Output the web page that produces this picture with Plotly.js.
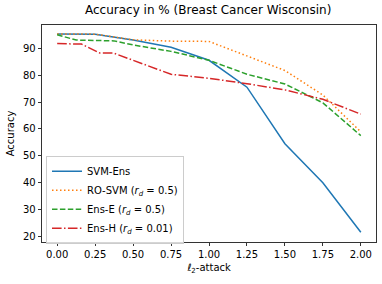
<!DOCTYPE html>
<html>
<head>
<meta charset="utf-8">
<script src="https://cdn.plot.ly/plotly-3.0.1.min.js"></script>
<style>html,body{margin:0;padding:0;background:#fff;}#chart{width:382px;height:284px;}</style>
</head>
<body>
<div id="chart"></div>
<script>
const svmEnsX = [0, 0.25, 0.5, 0.75, 1.0, 1.25, 1.5, 1.75, 2.0];
const svmEnsY = [95.3, 95.2, 93.0, 90.3, 85.5, 75.5, 54.5, 40.0, 21.6];
const roSvmX = [0, 0.25, 0.5, 0.75, 1.0, 1.25, 1.5, 1.75, 2.0];
const roSvmY = [95.3, 95.2, 93.1, 92.6, 92.5, 87.0, 81.7, 72.6, 58.9];
const ensEX = [0, 0.125, 0.375, 0.5, 0.75, 1.0, 1.25, 1.5, 1.75, 2.0];
const ensEY = [95.0, 93.0, 92.7, 91.2, 88.8, 85.5, 80.3, 76.7, 69.7, 57.5];
const ensHX = [0, 0.16, 0.28, 0.37, 0.75, 1.0, 1.25, 1.5, 1.75, 2.0];
const ensHY = [91.7, 91.5, 88.2, 88.2, 80.3, 78.8, 76.8, 74.5, 71.0, 65.5];
const seriesNames = ['SVM-Ens', 'RO-SVM (<i>r<sub>d</sub></i> = 0.5)', 'Ens-E (<i>r<sub>d</sub></i> = 0.5)', 'Ens-H (<i>r<sub>d</sub></i> = 0.01)'];
const xTicks = [0, 0.25, 0.5, 0.75, 1.0, 1.25, 1.5, 1.75, 2.0];
const xTickText = ['0.00', '0.25', '0.50', '0.75', '1.00', '1.25', '1.50', '1.75', '2.00'];
const yTicks = [20, 30, 40, 50, 60, 70, 80, 90];

const traces = [
  {x: svmEnsX, y: svmEnsY, name: seriesNames[0], mode: 'lines', line: {color: '#1f77b4', width: 1.5}},
  {x: roSvmX, y: roSvmY, name: seriesNames[1], mode: 'lines', line: {color: '#ff7f0e', width: 1.5, dash: '1.5px,2.5px'}},
  {x: ensEX, y: ensEY, name: seriesNames[2], mode: 'lines', line: {color: '#2ca02c', width: 1.5, dash: '5.5px,2.4px'}},
  {x: ensHX, y: ensHY, name: seriesNames[3], mode: 'lines', line: {color: '#d62728', width: 1.5, dash: '9.6px,2.4px,1.5px,2.4px'}}
];

const font = {family: 'DejaVu Sans', size: 10, color: '#000'};
const layout = {
  width: 382, height: 284,
  margin: {l: 42, r: 6, t: 25, b: 42, pad: 0},
  paper_bgcolor: '#fff', plot_bgcolor: '#fff',
  font: font,
  showlegend: true,
  title: {text: 'Accuracy in % (Breast Cancer Wisconsin)', font: {family: 'DejaVu Sans', size: 12, color: '#000'}, x: 0.545, xanchor: 'center', y: 0.965, yanchor: 'middle'},
  xaxis: {
    range: [-0.1, 2.1], showgrid: false, zeroline: false,
    showline: true, mirror: true, linecolor: '#000', linewidth: 0.8,
    ticks: 'outside', ticklen: 3.5, tickwidth: 0.8, tickcolor: '#000',
    tickvals: xTicks, ticktext: xTickText, tickfont: font,
    title: {text: '<i>ℓ</i><sub>2</sub>-attack', font: font, standoff: 4}
  },
  yaxis: {
    range: [18, 98.6], showgrid: false, zeroline: false,
    showline: true, mirror: true, linecolor: '#000', linewidth: 0.8,
    ticks: 'outside', ticklen: 3.5, tickwidth: 0.8, tickcolor: '#000',
    tickvals: yTicks, tickfont: font,
    title: {text: 'Accuracy', font: font, standoff: 6}
  },
  legend: {
    x: 0.012, y: 0.398, xanchor: 'left', yanchor: 'top',
    bgcolor: 'rgba(255,255,255,0.8)', bordercolor: '#cccccc', borderwidth: 1,
    font: font, itemwidth: 30, tracegroupgap: 0
  }
};
Plotly.newPlot('chart', traces, layout, {displayModeBar: false, staticPlot: true});
</script>
</body>
</html>
